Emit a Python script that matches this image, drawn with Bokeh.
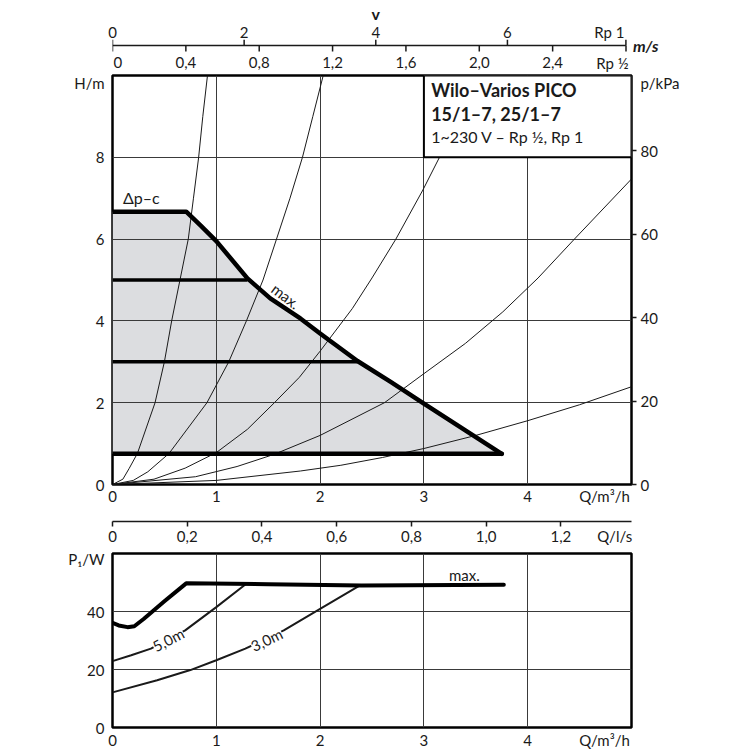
from bokeh.plotting import figure
from bokeh.models import Range1d, LinearAxis, FixedTicker
from bokeh.layouts import column
from bokeh.embed import file_html
from bokeh.resources import INLINE
from bokeh.core.properties import value

# ---------------- data ----------------
Q_MAX = 5.0            # m3/h at right frame edge
H_MAX = 10.0           # m at top frame edge
P1_MAX = 60.0          # W at top of power frame
KPA_PER_M = 9.81
LS_PER_M3H = 1 / 3.6
V_HALF_AT_QMAX = 2.83  # m/s (Rp 1/2) at right frame edge
V_ONE_AT_QMAX = 7.885  # m/s (Rp 1) at right frame edge

Q_TICKS = [0, 1, 2, 3, 4]
Q_GRID = [1, 2, 3, 4]
H_TICKS = [0, 2, 4, 6, 8]
H_GRID = [2, 4, 6, 8]
KPA_TICKS = [0, 20, 40, 60, 80]
P1_TICKS = [0, 20, 40]
P1_GRID = [20, 40]
LS_TICKS = [0, 0.2, 0.4, 0.6, 0.8, 1.0, 1.2]
LS_LABELS = ["0", "0,2", "0,4", "0,6", "0,8", "1,0", "1,2"]
V_HALF_TICKS = [0, 0.4, 0.8, 1.2, 1.6, 2.0, 2.4]
V_HALF_LABELS = ["0", "0,4", "0,8", "1,2", "1,6", "2,0", "2,4"]
V_HALF_END = 2.8
V_ONE_TICKS = [0, 2, 4, 6]
V_ONE_END = 7.8

# H(Q): max curve (with delta-p-c plateau) and delta-p-c settings
MAX_Q = [0, 0.71, 0.85, 1.0, 1.3, 1.52, 1.81, 2.0, 2.36, 2.68, 3.0, 3.75]
MAX_H = [6.67, 6.67, 6.33, 5.95, 5.04, 4.55, 4.06, 3.69, 3.02, 2.51, 1.98, 0.75]
DPC_H = [5.0, 3.0]
DPC_Q_END = [1.30, 2.36]
MIN_H = 0.75
MIN_Q_END = 3.75

# system curves
SYS_A_Q = [0, 0.1, 0.16, 0.24, 0.41, 0.50, 0.57, 0.65, 0.73, 0.78, 0.83, 0.87, 0.915]
SYS_A_H = [0, 0.13, 0.39, 0.76, 2.0, 3.0, 4.0, 5.0, 6.0, 7.0, 8.0, 9.0, 10.0]
SYS_B_Q = [0, 0.2, 0.34, 0.545, 0.91, 1.12, 1.29, 1.45, 1.58, 1.71, 1.83, 1.93, 2.03]
SYS_B_H = [0, 0.1, 0.31, 0.76, 2.0, 3.0, 4.0, 5.0, 6.0, 7.0, 8.0, 9.0, 10.0]
SYS_C_Q = [0, 0.4, 0.7, 1.0, 1.3, 1.56, 1.8, 2.0, 2.31, 2.5, 2.73, 2.99, 3.15]
SYS_C_H = [0, 0.13, 0.4, 0.78, 1.35, 2.0, 2.62, 3.26, 4.3, 5.05, 6.0, 7.2, 8.0]
SYS_D_Q = [0, 0.8, 1.2, 1.56, 2.0, 2.62, 3.0, 3.4, 3.76, 4.1, 4.45, 5.0]
SYS_D_H = [0, 0.19, 0.44, 0.74, 1.2, 2.0, 2.71, 3.45, 4.22, 5.05, 6.0, 7.47]
SYS_E_Q = [0, 1.0, 1.81, 2.2, 2.6, 3.0, 3.5, 4.0, 4.5, 5.0]
SYS_E_H = [0, 0.1, 0.33, 0.47, 0.66, 0.88, 1.2, 1.56, 1.95, 2.39]

# P1(Q)
P_MAX_Q = [0, 0.06, 0.145, 0.21, 0.3, 0.5, 0.71, 1.5, 2.4, 3.77]
P_MAX_P = [36.1, 35.2, 34.6, 34.9, 37.4, 43.5, 49.7, 49.4, 49.0, 49.2]
P_5M_Q = [0, 0.18, 0.37, 0.7, 1.0, 1.28]
P_5M_P = [22.9, 24.9, 27.2, 33.5, 41.5, 49.3]
P_3M_Q = [0, 0.43, 0.75, 1.0, 1.28, 1.65, 2.0, 2.38]
P_3M_P = [12.1, 16.3, 19.8, 23.2, 27.2, 33.5, 40.9, 48.9]

TITLE_LINES = ["Wilo–Varios PICO", "15/1–7, 25/1–7", "1~230 V – Rp ½, Rp 1"]
BOX_Q0, BOX_H0 = 3.0, 8.0

# ---------------- label placement (layout, not data) ----------------
H_UNIT_AT = 9.85         # "H/m" beside the left axis
KPA_UNIT_AT = 96.2       # "p/kPa" beside the right axis
Q_UNIT_AT = 4.74         # "Q/m³/h" in the bottom tick row
LS_UNIT_AT = 1.344       # "Q/l/s"
P1_UNIT_AT = 59.0        # "P₁/W"
RP1_AT = 7.55            # "Rp 1"
RPH_AT = 2.726           # "Rp ½"

# ---------------- styling ----------------
FONT = "Lato"
INK = "#1a1a1a"
GRIDC = "#3a3a3a"
FILL = "#dcdde0"
LEFT, RIGHT, FW = 112, 70, 519
PV_EXTRA = 30
PV_HI = (FW + PV_EXTRA) / FW      # strip range end as a fraction of the full scale
FH1, FH2 = 409, 174
PV_H = 34        # velocity strip frame height (px); 1 data unit = 1 px
LINE_Y = 28      # velocity scale line, px above strip bottom
HALF_LAB_Y = 11  # Rp 1/2 tick labels, px above strip bottom


def base_fig(fw=FW, right=RIGHT, **kw):
    p = figure(frame_width=fw, min_border_left=LEFT, min_border_right=right,
               toolbar_location=None, output_backend="svg", **kw)
    p.background_fill_color = "white"
    p.border_fill_color = "white"
    return p


def style_axis(ax, standoff, tick_out=0, tick_in=0, minor_out=0, minor_in=0, line=False,
               bold=False, size="15px"):
    ax.major_label_text_font = FONT
    ax.major_label_text_font_size = size
    ax.major_label_text_color = INK
    ax.major_label_standoff = standoff
    if bold:
        ax.major_label_text_font_style = "bold"
    ax.major_tick_line_color = INK
    ax.major_tick_line_width = 1.5
    ax.major_tick_out = tick_out
    ax.major_tick_in = tick_in
    ax.minor_tick_line_color = INK if (minor_out or minor_in) else None
    ax.minor_tick_line_width = 1.5
    ax.minor_tick_out = minor_out
    ax.minor_tick_in = minor_in
    ax.axis_line_color = INK if line else None
    ax.axis_line_width = 1.5


def txt(p, x, y, text, size="15px", style="normal", align="left", angle=0, **kw):
    p.text(x=x, y=y, text=text, text_font=value(FONT), text_font_size=size,
           text_font_style=style, text_align=align, text_baseline="middle",
           text_color=INK, angle=angle, **kw)


# ---------------- velocity scale ----------------
pv = base_fig(fw=FW + PV_EXTRA, right=RIGHT - PV_EXTRA, frame_height=PV_H,
              x_range=Range1d(0, Q_MAX * PV_HI), y_range=Range1d(0, PV_H),
              x_axis_type=None, y_axis_type=None, min_border_top=38, min_border_bottom=0)
pv.outline_line_color = None
pv.extra_x_ranges = {"vhalf": Range1d(0, V_HALF_AT_QMAX * PV_HI),
                     "vone": Range1d(0, V_ONE_AT_QMAX * PV_HI)}
ax_one = LinearAxis(x_range_name="vone", ticker=FixedTicker(ticks=V_ONE_TICKS + [RP1_AT]),
                    major_label_overrides={RP1_AT: "Rp 1"})
style_axis(ax_one, -1)
pv.add_layout(ax_one, "above")
ax_v = LinearAxis(x_range_name="vone", ticker=FixedTicker(ticks=[4]), major_label_overrides={4: "v"})
style_axis(ax_v, -3, bold=True, size="16px")
pv.add_layout(ax_v, "above")
one_marks = V_ONE_TICKS + [V_ONE_END]
half_marks = V_HALF_TICKS + [V_HALF_END]
pv.line([0, V_ONE_END], [LINE_Y, LINE_Y], x_range_name="vone", line_color=INK, line_width=1.5)
pv.segment(x0=one_marks, y0=[LINE_Y] * len(one_marks), x1=one_marks, y1=[LINE_Y + 6] * len(one_marks),
           x_range_name="vone", line_color=INK, line_width=1.5)
pv.segment(x0=half_marks, y0=[LINE_Y - 6] * len(half_marks), x1=half_marks, y1=[LINE_Y] * len(half_marks),
           x_range_name="vhalf", line_color=INK, line_width=1.5)
# first label sits on the strip's left edge: left-align it so it is not cut
txt(pv, V_HALF_TICKS[:1], [HALF_LAB_Y], V_HALF_LABELS[:1], align="left", x_offset=1, x_range_name="vhalf")
txt(pv, V_HALF_TICKS[1:] + [RPH_AT], [HALF_LAB_Y] * len(V_HALF_TICKS), V_HALF_LABELS[1:] + ["Rp ½"],
    align="center", x_range_name="vhalf")
txt(pv, [V_ONE_END], [LINE_Y], ["m/s"], size="16px", style="bold italic", x_offset=7, x_range_name="vone")

# ---------------- H(Q) ----------------
p1 = base_fig(frame_height=FH1, x_range=Range1d(0, Q_MAX), y_range=Range1d(0, H_MAX),
              min_border_top=2, min_border_bottom=30)
p1.outline_line_color = "black"
p1.outline_line_width = 2.5
xa = p1.xaxis[0]
xa.ticker = FixedTicker(ticks=Q_TICKS + [Q_UNIT_AT])
xa.major_label_overrides = {Q_UNIT_AT: "Q/m³/h"}
style_axis(xa, 2)
ya = p1.yaxis[0]
ya.ticker = FixedTicker(ticks=H_TICKS + [H_UNIT_AT])
ya.major_label_overrides = {H_UNIT_AT: "H/m"}
style_axis(ya, 8)
p1.extra_y_ranges = {"kpa": Range1d(0, H_MAX * KPA_PER_M)}
ra = LinearAxis(y_range_name="kpa", ticker=FixedTicker(ticks=KPA_TICKS + [KPA_UNIT_AT], minor_ticks=KPA_TICKS),
                major_label_overrides={KPA_UNIT_AT: "p/kPa"})
style_axis(ra, 4, minor_out=5)
p1.add_layout(ra, "right")
p1.xgrid.ticker = FixedTicker(ticks=Q_GRID)
p1.ygrid.ticker = FixedTicker(ticks=H_GRID)
p1.grid.grid_line_color = GRIDC
p1.grid.grid_line_width = 1

p1.patch(MAX_Q + [0], MAX_H + [MIN_H], fill_color=FILL, line_color=None, level="image")
p1.multi_line([SYS_A_Q, SYS_B_Q, SYS_C_Q, SYS_D_Q, SYS_E_Q],
              [SYS_A_H, SYS_B_H, SYS_C_H, SYS_D_H, SYS_E_H],
              line_color=INK, line_width=1, line_join="round")
p1.multi_line([[0, q] for q in DPC_Q_END], [[h, h] for h in DPC_H],
              line_color="black", line_width=3.5)
p1.line([0, MIN_Q_END], [MIN_H, MIN_H], line_color="black", line_width=4.5, line_cap="round")
p1.line(MAX_Q, MAX_H, line_color="black", line_width=4.5, line_join="round", line_cap="round")
p1.quad(left=[BOX_Q0], right=[Q_MAX], bottom=[BOX_H0], top=[H_MAX],
        fill_color="white", line_color="black", line_width=2)
txt(p1, [3.07, 3.07], [9.65, 9.07], TITLE_LINES[:2], size="18px", style="bold")
txt(p1, [3.07], [8.5], TITLE_LINES[2:], size="16px")
txt(p1, [0.1], [7.02], ["Δp–c"], size="16px")
txt(p1, [1.67], [4.61], ["max."], align="center", angle=-0.65)

# ---------------- Q in l/s scale ----------------
pq = base_fig(frame_height=1, x_range=Range1d(0, Q_MAX * LS_PER_M3H), y_range=Range1d(0, 1),
              x_axis_type=None, y_axis_type=None, min_border_top=6, min_border_bottom=28)
pq.outline_line_color = None
ax_ls = LinearAxis(ticker=FixedTicker(ticks=LS_TICKS + [LS_UNIT_AT], minor_ticks=LS_TICKS),
                   major_label_overrides=dict(zip(LS_TICKS + [LS_UNIT_AT], LS_LABELS + ["Q/l/s"])))
style_axis(ax_ls, 0, minor_out=5, line=True)
pq.add_layout(ax_ls, "below")

# ---------------- P1(Q) ----------------
p2 = base_fig(frame_height=FH2, x_range=Range1d(0, Q_MAX), y_range=Range1d(0, P1_MAX),
              min_border_top=4, min_border_bottom=23)
p2.outline_line_color = "black"
p2.outline_line_width = 2.5
xb = p2.xaxis[0]
xb.ticker = FixedTicker(ticks=Q_TICKS + [Q_UNIT_AT])
xb.major_label_overrides = {Q_UNIT_AT: "Q/m³/h"}
style_axis(xb, 3)
yb = p2.yaxis[0]
yb.ticker = FixedTicker(ticks=P1_TICKS + [P1_UNIT_AT])
yb.major_label_overrides = {P1_UNIT_AT: "P₁/W"}
style_axis(yb, 8)
p2.xgrid.ticker = FixedTicker(ticks=Q_GRID)
p2.ygrid.ticker = FixedTicker(ticks=P1_GRID)
p2.grid.grid_line_color = GRIDC
p2.grid.grid_line_width = 1

p2.line(P_5M_Q, P_5M_P, line_color=INK, line_width=2)
p2.line(P_3M_Q, P_3M_P, line_color=INK, line_width=2)
p2.line(P_MAX_Q, P_MAX_P, line_color="black", line_width=4, line_join="round", line_cap="round")
txt(p2, [0.537, 1.485], [30.3, 30.3], ["5,0m", "3,0m"], align="center", angle=[0.48, 0.45],
    background_fill_color="white")
txt(p2, [3.39], [52.5], ["max."], align="center")

layout = column(pv, p1, pq, p2)
open("out.html", "w").write(file_html(layout, INLINE, title="Wilo-Varios PICO"))
